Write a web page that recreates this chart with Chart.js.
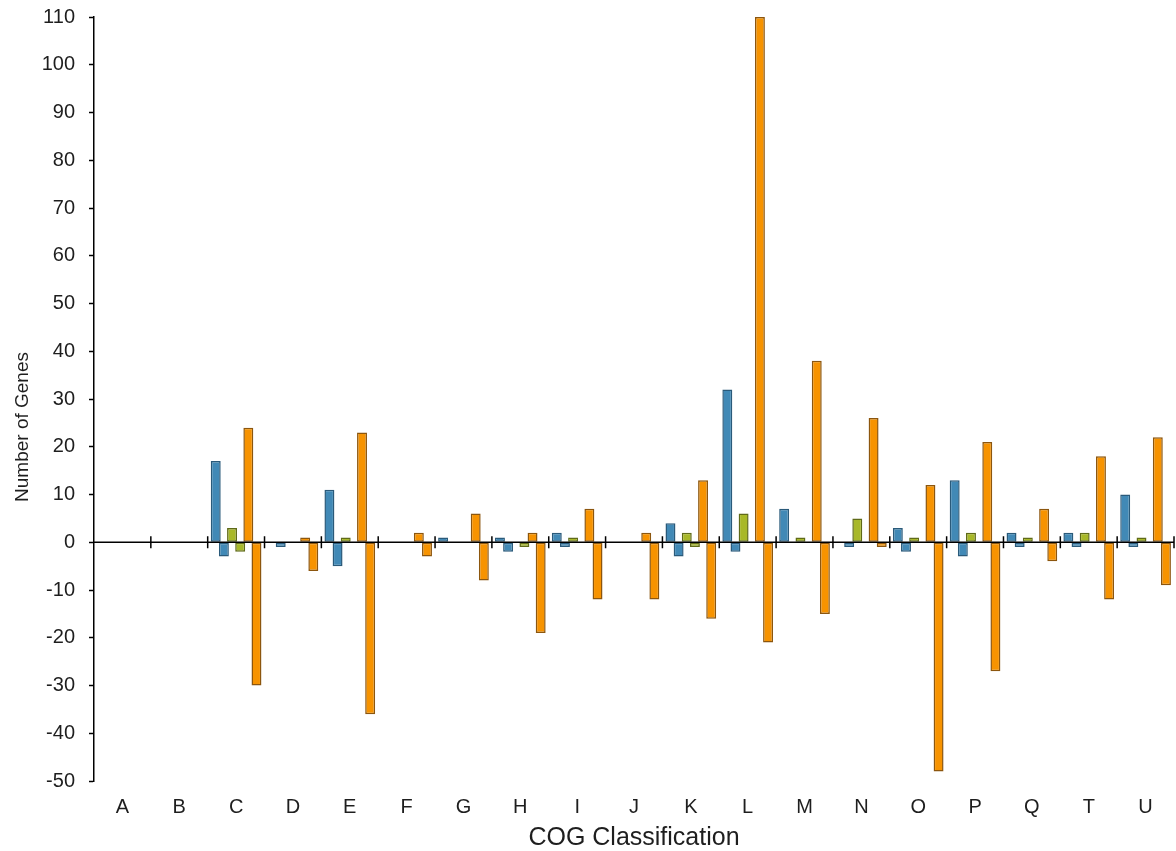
<!DOCTYPE html>
<html>
<head>
<meta charset="utf-8">
<title>COG Classification</title>
<script src="https://cdn.jsdelivr.net/npm/chart.js@4.4.1/dist/chart.umd.min.js"></script>
<style>
  html, body { margin: 0; padding: 0; background: #fff; }
  #wrap { width: 1176px; height: 851px; }
</style>
</head>
<body>
<div id="wrap"><canvas id="cogChart" width="1176" height="851"></canvas></div>
<script>
/* ===== data ===== */
const categories = ["A","B","C","D","E","F","G","H","I","J","K","L","M","N","O","P","Q","T","U"];

// each group is drawn as an up bar and a down bar
const blueUp     = [0, 0, 17, 0, 11, 0, 1, 1, 2, 0, 4, 32, 7, 0, 3, 13, 2, 2, 10];
const blueDown   = [0, 0, -3, -1, -5, 0, 0, -2, -1, 0, -3, -2, 0, -1, -2, -3, -1, -1, -1];
const greenUp    = [0, 0, 3, 0, 1, 0, 0, 0, 1, 0, 2, 6, 1, 5, 1, 2, 1, 2, 1];
const greenDown  = [0, 0, -2, 0, 0, 0, 0, -1, 0, 0, -1, 0, 0, 0, 0, 0, 0, 0, 0];
const orangeUp   = [0, 0, 24, 1, 23, 2, 6, 2, 7, 2, 13, 110, 38, 26, 12, 21, 7, 18, 22];
const orangeDown = [0, 0, -30, -6, -36, -3, -8, -19, -12, -12, -16, -21, -15, -1, -48, -27, -4, -12, -9];

const yTickValues = [-50, -40, -30, -20, -10, 0, 10, 20, 30, 40, 50, 60, 70, 80, 90, 100, 110];

const xTitleText = "COG Classification";
const yTitleText = "Number of Genes";

/* ===== styles ===== */
const FONT = "'Liberation Sans', Arial, sans-serif";
const TEXT = "#1e1e1e";
const BLUE   = { fill: "#4189b6", line: "#2a5a7a" };
const GREEN  = { fill: "#a8b828", line: "#5f6a18" };
const ORANGE = { fill: "#f79300", line: "#8c560e" };

function barSet(label, data, c){
    return {
        label: label,
        data: data,
        backgroundColor: c.fill,
        borderColor: c.line,
        borderWidth: 1.5,
        borderSkipped: false,
        // bars slightly wider than their slot so neighbours touch
        categoryPercentage: 0.86,
        barPercentage: 1.22
    };
}

/* ===== zero line + category ticks on it ===== */
const zeroAxis = {
    id: "zeroAxis",
    afterDatasetsDraw(chart){
        const { ctx, chartArea, scales: { x, y } } = chart;
        const y0 = y.getPixelForValue(0);
        ctx.save();
        ctx.strokeStyle = "#000";
        ctx.lineWidth = 1.5;
        ctx.beginPath();
        ctx.moveTo(chartArea.left, y0);
        ctx.lineTo(chartArea.right, y0);
        for(let i = 1; i <= categories.length; i++){
            const px = x.getPixelForValue(i - 0.5);
            ctx.moveTo(px, y0 - 6);
            ctx.lineTo(px, y0 + 6);
        }
        ctx.stroke();
        ctx.restore();
    }
};

/* ===== rotated y title ===== */
const yTitle = {
    id: "yTitle",
    afterDraw(chart){
        const { ctx } = chart;
        ctx.save();
        ctx.translate(27.5, 427);
        ctx.rotate(-Math.PI / 2);
        ctx.font = "19px " + FONT;
        ctx.fillStyle = TEXT;
        ctx.textAlign = "center";
        ctx.textBaseline = "alphabetic";
        ctx.fillText(yTitleText, 0, 0);
        ctx.restore();
    }
};

new Chart(document.getElementById("cogChart"), {
    type: "bar",
    data: {
        labels: categories,
        datasets: [
            barSet("Blue up", blueUp, BLUE),
            barSet("Blue down", blueDown, BLUE),
            barSet("Green up", greenUp, GREEN),
            barSet("Green down", greenDown, GREEN),
            barSet("Orange up", orangeUp, ORANGE),
            barSet("Orange down", orangeDown, ORANGE)
        ]
    },
    options: {
        responsive: false,
        animation: false,
        layout: { padding: { top: 17, right: 2, bottom: 0, left: 0 } },
        plugins: {
            legend: { display: false },
            tooltip: { enabled: false }
        },
        scales: {
            x: {
                afterFit: s => { s.height = 70; s.paddingLeft = 0; s.paddingRight = 0; },
                grid: { display: false, drawTicks: false },
                border: { display: false },
                ticks: {
                    padding: 14,
                    color: TEXT,
                    font: { size: 20, family: FONT }
                },
                title: {
                    display: true,
                    text: xTitleText,
                    color: TEXT,
                    font: { size: 25, family: FONT, lineHeight: 1.05 },
                    padding: { top: 0, bottom: 0 }
                }
            },
            y: {
                min: -50,
                max: 110,
                afterBuildTicks: s => { s.ticks = yTickValues.map(v => ({ value: v })); },
                afterFit: s => { s.width = 94; s.paddingTop = 0; s.paddingBottom = 0; },
                border: { display: true, color: "#000", width: 1.5 },
                grid: {
                    drawOnChartArea: false,
                    drawTicks: true,
                    tickLength: 5,
                    tickColor: "#000",
                    tickWidth: 1.5
                },
                ticks: {
                    padding: 14,
                    color: TEXT,
                    font: { size: 20, family: FONT }
                }
            }
        }
    },
    plugins: [zeroAxis, yTitle]
});
</script>
</body>
</html>
